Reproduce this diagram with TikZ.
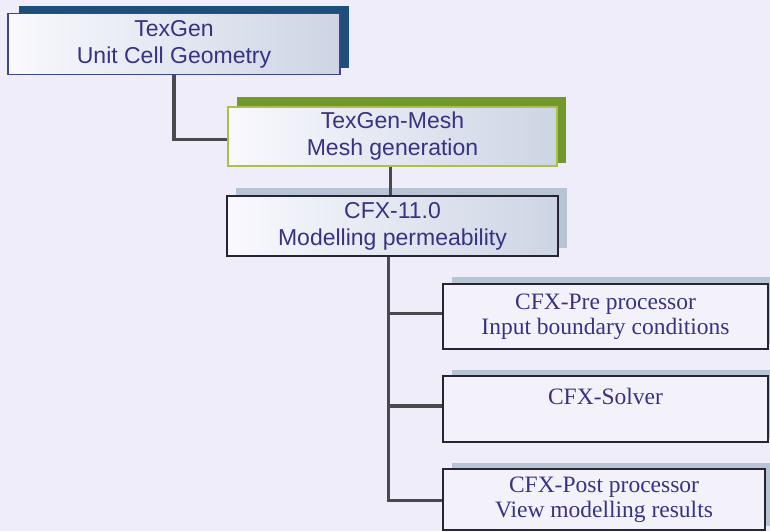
\documentclass[tikz,border=0pt]{standalone}
\usepackage{fontspec}
\setmainfont{Liberation Serif}
\setsansfont{Liberation Sans}
\usetikzlibrary{backgrounds}
\definecolor{bgc}{RGB}{238,237,249}
\definecolor{txt}{RGB}{55,50,130}
\definecolor{shA}{RGB}{30,78,122}
\definecolor{shB}{RGB}{112,152,42}
\definecolor{shC}{RGB}{182,196,212}
\definecolor{bdA}{RGB}{60,70,140}
\definecolor{bdB}{RGB}{172,192,70}
\definecolor{bdC}{RGB}{40,36,52}
\definecolor{conn}{RGB}{75,72,78}
\definecolor{gradL}{RGB}{249,249,254}
\definecolor{gradR}{RGB}{205,213,228}
\definecolor{lowfill}{RGB}{243,242,251}
\tikzset{
  topbox/.style={rectangle, inner sep=0pt, text=txt, align=center,
    font=\sffamily\fontsize{23}{27}\selectfont,
    left color=gradL, right color=gradR, line width=1.2pt},
  lowbox/.style={rectangle, inner sep=0pt, text=txt, align=center,
    font=\rmfamily\fontsize{23.5}{25}\selectfont,
    fill=lowfill, draw=bdC, line width=1.5pt},
  link/.style={draw=conn, line width=3.5pt}
}
\begin{document}
\begin{tikzpicture}[x=1pt,y=-1pt]
\useasboundingbox (0,0) rectangle (770,531);
\clip (0,0) rectangle (770,531);
% main boxes
\node[topbox, draw=bdA, minimum width=332pt, minimum height=61pt] (b1) at (174,44) {TexGen\\Unit Cell Geometry};
\node[topbox, draw=bdB, minimum width=329pt, minimum height=59pt] (b2) at (392.5,136.5) {TexGen-Mesh\\Mesh generation};
\node[topbox, draw=bdC, minimum width=331pt, minimum height=60pt] (b3) at (392.5,226) {CFX-11.0\\Modelling permeability};
\node[lowbox, minimum width=325pt, minimum height=65pt] (b4) at (605.5,316.5) {CFX-Pre processor\\Input boundary conditions};
\node[lowbox, minimum width=325pt, minimum height=66pt] (b5) at (605.5,409) {CFX-Solver\\\mbox{}};
\node[lowbox, minimum width=322pt, minimum height=61pt] (b6) at (604,499.5) {CFX-Post processor\\View modelling results};
% shadows and background
\begin{scope}[on background layer]
\fill[bgc] (0,0) rectangle (770,531);
\fill[shA] ([shift={(12,-7)}]b1.north west) rectangle ([shift={(8,-7)}]b1.south east);
\fill[shB] ([shift={(10,-9)}]b2.north west) rectangle ([shift={(8,-4)}]b2.south east);
\fill[shC] ([shift={(10,-7)}]b3.north west) rectangle ([shift={(8,-9)}]b3.south east);
\fill[shC] ([shift={(10,-6)}]b4.north west) rectangle ([shift={(10,-6)}]b4.south east);
\fill[shC] ([shift={(10,-5)}]b5.north west) rectangle ([shift={(10,-5)}]b5.south east);
\fill[shC] ([shift={(10,-5)}]b6.north west) rectangle ([shift={(10,-5)}]b6.south east);
\end{scope}
% connectors
\draw[link] (b1.south) |- ([yshift=-3]b2.west);
\draw[link] ([xshift=-2]b2.south) -- ([xshift=-2]b3.north);
\draw[link] ([xshift=-4]b3.south) |- ([yshift=3]b4.west);
\draw[link] ([xshift=-4]b3.south) |- ([yshift=3]b5.west);
\draw[link] ([xshift=-4]b3.south) |- ([yshift=-1]b6.west);
\end{tikzpicture}
\end{document}
